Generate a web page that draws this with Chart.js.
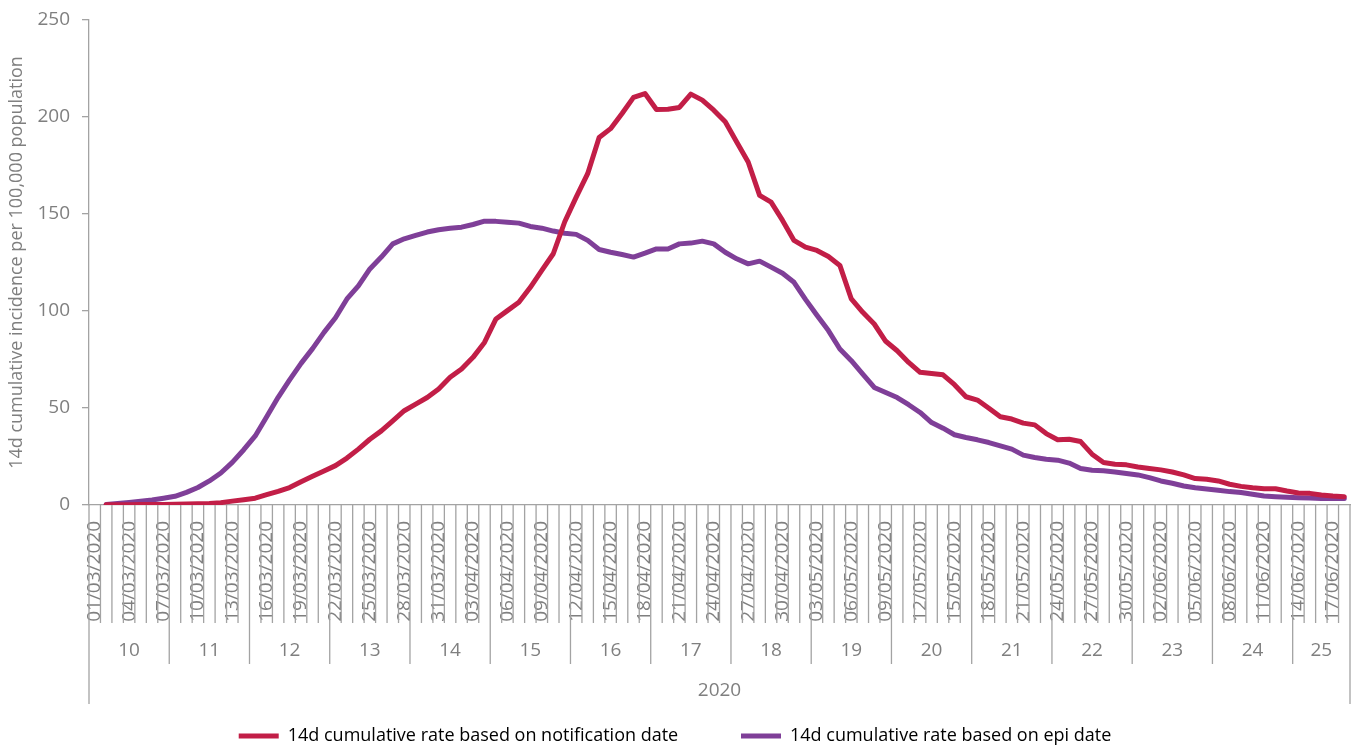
<!DOCTYPE html>
<html>
<head>
<meta charset="utf-8">
<script src="https://cdn.jsdelivr.net/npm/chart.js@4.4.1/dist/chart.umd.min.js"></script>
<style>
  html, body { margin: 0; padding: 0; background: #fff; }
  #wrap { width: 1357px; height: 747px; position: relative; }
</style>
</head>
<body>
<div id="wrap"><canvas id="chart"></canvas></div>
<script>
// daily categories (dd/mm/yyyy)
const dates = [
  '01/03/2020','02/03/2020','03/03/2020','04/03/2020','05/03/2020','06/03/2020','07/03/2020','08/03/2020','09/03/2020','10/03/2020',
  '11/03/2020','12/03/2020','13/03/2020','14/03/2020','15/03/2020','16/03/2020','17/03/2020','18/03/2020','19/03/2020','20/03/2020',
  '21/03/2020','22/03/2020','23/03/2020','24/03/2020','25/03/2020','26/03/2020','27/03/2020','28/03/2020','29/03/2020','30/03/2020','31/03/2020',
  '01/04/2020','02/04/2020','03/04/2020','04/04/2020','05/04/2020','06/04/2020','07/04/2020','08/04/2020','09/04/2020','10/04/2020',
  '11/04/2020','12/04/2020','13/04/2020','14/04/2020','15/04/2020','16/04/2020','17/04/2020','18/04/2020','19/04/2020','20/04/2020',
  '21/04/2020','22/04/2020','23/04/2020','24/04/2020','25/04/2020','26/04/2020','27/04/2020','28/04/2020','29/04/2020','30/04/2020',
  '01/05/2020','02/05/2020','03/05/2020','04/05/2020','05/05/2020','06/05/2020','07/05/2020','08/05/2020','09/05/2020','10/05/2020',
  '11/05/2020','12/05/2020','13/05/2020','14/05/2020','15/05/2020','16/05/2020','17/05/2020','18/05/2020','19/05/2020','20/05/2020',
  '21/05/2020','22/05/2020','23/05/2020','24/05/2020','25/05/2020','26/05/2020','27/05/2020','28/05/2020','29/05/2020','30/05/2020','31/05/2020',
  '01/06/2020','02/06/2020','03/06/2020','04/06/2020','05/06/2020','06/06/2020','07/06/2020','08/06/2020','09/06/2020','10/06/2020',
  '11/06/2020','12/06/2020','13/06/2020','14/06/2020','15/06/2020','16/06/2020','17/06/2020','18/06/2020'
];

// epi week numbers, each week = 7 consecutive dates starting on 01/03
const weekNumbers = ['10','11','12','13','14','15','16','17','18','19','20','21','22','23','24','25'];
const yearLabel = '2020';
const yTickValues = [0, 50, 100, 150, 200, 250];

const notificationRate = [
  null, 0.1, 0.1, 0.1, 0.2, 0.2, 0.3, 0.4, 0.5, 0.6,
  0.8, 1.2, 2.0, 2.7, 3.5, 5.3, 7.0, 9.0, 12.0, 14.8,
  17.5, 20.3, 24.2, 28.8, 33.9, 38.2, 43.4, 48.6, 52.0, 55.4,
  59.8, 65.8, 70.1, 76.1, 83.8, 95.9, 100.2, 104.5, 112.2, 120.9,
  129.5, 146.0, 158.7, 170.8, 189.4, 194.0, 201.8, 210.1, 212.1, 203.9,
  204.0, 204.9, 211.8, 208.7, 203.5, 197.5, 187.1, 176.8, 159.6, 156.1,
  146.7, 136.4, 132.9, 131.2, 128.1, 123.5, 106.2, 99.3, 93.3, 84.4,
  79.5, 73.5, 68.4, 67.8, 67.1, 62.0, 55.8, 54.1, 49.9, 45.5,
  44.3, 42.2, 41.3, 36.8, 33.6, 33.9, 32.7, 26.2, 21.9, 21.0,
  20.7, 19.6, 18.8, 18.1, 17.0, 15.5, 13.6, 13.3, 12.4, 10.7,
  9.6, 8.9, 8.4, 8.4, 7.2, 6.2, 6.0, 5.2, 4.6, 4.3
];

const epiRate = [
  null, 0.3, 0.8, 1.3, 1.9, 2.6, 3.5, 4.5, 6.5, 9.0,
  12.4, 16.5, 22.0, 28.5, 35.6, 45.5, 55.5, 64.5, 73.0, 80.6,
  89.0, 96.5, 106.2, 113.0, 121.7, 127.8, 134.6, 137.2, 139.0, 140.7,
  141.9, 142.7, 143.2, 144.6, 146.3, 146.2, 145.8, 145.3, 143.6, 142.7,
  141.2, 140.1, 139.5, 136.4, 131.7, 130.3, 129.1, 127.8, 129.8, 132.0,
  132.0, 134.6, 135.0, 136.0, 134.6, 130.3, 126.9, 124.3, 125.7, 122.6,
  119.5, 114.8, 106.0, 97.8, 89.9, 80.4, 74.4, 67.5, 60.6, 58.0,
  55.4, 51.7, 47.7, 42.5, 39.6, 36.2, 34.8, 33.6, 32.2, 30.5,
  28.8, 25.7, 24.5, 23.6, 23.1, 21.6, 18.8, 17.9, 17.6, 17.0,
  16.2, 15.5, 14.1, 12.4, 11.2, 9.8, 8.9, 8.3, 7.6, 6.9,
  6.4, 5.5, 4.6, 4.3, 4.0, 3.8, 3.6, 3.4, 3.4, 3.4
];

const axisColor = '#a3a3a3';
const textColor = '#7f7f7f';
const fontFamily = '"Open Sans", "Noto Sans", sans-serif';

// draws day separators, week row and year row under the date labels
const multiLevelAxis = {
    id: 'multiLevelAxis',
    afterDraw(chart) {
        const ctx = chart.ctx;
        const x = chart.scales.x;
        const n = dates.length;
        const step = x.getPixelForValue(1) - x.getPixelForValue(0);
        const top = x.top;

        ctx.save();
        ctx.strokeStyle = axisColor;
        ctx.lineWidth = 1.3;
        for (let i = 0; i <= n; i++) {
            const px = i < n ? x.getPixelForValue(i) - step / 2 : x.getPixelForValue(n - 1) + step / 2;
            let len = 118;
            if (i % 7 === 0) len = 159;
            if (i === 0 || i === n) len = 199;
            ctx.beginPath();
            ctx.moveTo(px, top);
            ctx.lineTo(px, top + len);
            ctx.stroke();
        }

        ctx.fillStyle = textColor;
        ctx.font = '19px ' + fontFamily;
        ctx.textAlign = 'center';
        ctx.textBaseline = 'middle';
        weekNumbers.forEach((w, k) => {
            const first = k * 7;
            const last = Math.min(first + 6, n - 1);
            const cx = (x.getPixelForValue(first) + x.getPixelForValue(last)) / 2;
            ctx.fillText(w, cx, top + 146);
        });
        ctx.fillText(yearLabel, (x.left + x.right) / 2, top + 186);
        ctx.restore();
    }
};

const chart = new Chart(document.getElementById('chart'), {
    type: 'line',
    data: {
        labels: dates,
        datasets: [{
            label: '14d cumulative rate based on notification date',
            data: notificationRate,
            borderColor: '#c21e47',
            backgroundColor: '#c21e47',
            borderWidth: 5,
            borderCapStyle: 'round',
            borderJoinStyle: 'round',
            pointRadius: 0,
            tension: 0
        }, {
            label: '14d cumulative rate based on epi date',
            data: epiRate,
            borderColor: '#7f3f98',
            backgroundColor: '#7f3f98',
            borderWidth: 5,
            borderCapStyle: 'round',
            borderJoinStyle: 'round',
            pointRadius: 0,
            tension: 0
        }]
    },
    options: {
        responsive: true,
        maintainAspectRatio: false,
        animation: false,
        layout: { padding: { top: 20, right: 7, bottom: -8, left: 0 } },
        scales: {
            x: {
                type: 'category',
                offset: true,
                afterFit(scale) {
                    scale.height = 220;
                    scale.paddingLeft = 0;
                    scale.paddingRight = 0;
                },
                grid: { display: false, drawTicks: false },
                border: { display: true, color: axisColor, width: 1.3 },
                ticks: {
                    autoSkip: false,
                    maxRotation: 90,
                    minRotation: 90,
                    padding: 16,
                    color: textColor,
                    font: { family: fontFamily, size: 19 },
                    callback(value, index) {
                        return index % 3 === 0 ? dates[index] : '';
                    }
                }
            },
            y: {
                min: 0,
                max: 250,
                afterFit(scale) {
                    scale.width = 89;
                    scale.paddingTop = 0;
                    scale.paddingBottom = 0;
                },
                afterBuildTicks(scale) { scale.ticks = yTickValues.map(v => ({ value: v })); },
                grid: { drawOnChartArea: false, drawTicks: true, tickLength: 7, color: axisColor, lineWidth: 1.3 },
                border: { display: true, color: axisColor, width: 1.3 },
                ticks: {
                    padding: 12,
                    color: textColor,
                    font: { family: fontFamily, size: 19 }
                },
                title: {
                    display: true,
                    text: '14d cumulative incidence per 100,000 population',
                    color: textColor,
                    font: { family: fontFamily, size: 18 },
                    padding: { top: 6, bottom: 0 }
                }
            }
        },
        plugins: {
            legend: {
                position: 'bottom',
                labels: {
                    usePointStyle: true,
                    pointStyle: 'line',
                    pointStyleWidth: 40,
                    padding: 2,
                    color: '#000',
                    font: { family: fontFamily, size: 18, lineHeight: 1 },
                    generateLabels(c) {
                        const items = Chart.defaults.plugins.legend.labels.generateLabels(c);
                        items.forEach((item, i) => {
                            item.pointStyle = 'line';
                            if (i < items.length - 1) item.text = item.text + ' '.repeat(13);
                        });
                        return items;
                    }
                }
            },
            tooltip: { enabled: false }
        }
    },
    plugins: [multiLevelAxis]
});
</script>
</body>
</html>
